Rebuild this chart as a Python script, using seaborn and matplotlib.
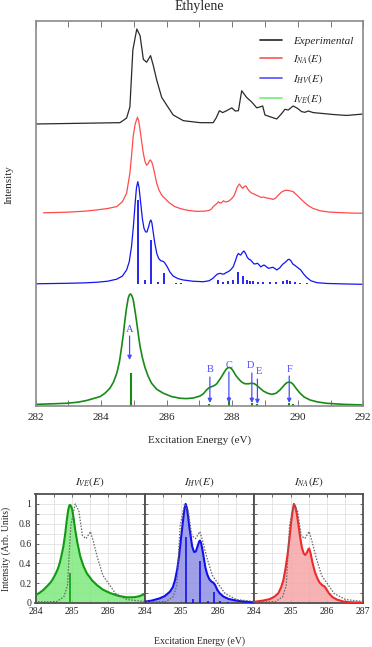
import numpy as np
import matplotlib
matplotlib.use("Agg")
import matplotlib.pyplot as plt
import seaborn as sns
from matplotlib.lines import Line2D

# ---------------- data ----------------
exp_E = [282.00, 284.58, 284.78, 284.88, 284.97, 285.09, 285.19, 285.29, 285.39, 285.51,
         285.59, 285.70, 285.85, 286.00, 286.20, 286.51, 287.02, 287.42, 287.51, 287.61,
         287.71, 287.83, 287.99, 288.09, 288.19, 288.29, 288.44, 288.60, 288.75, 288.85,
         288.93, 289.00, 289.15, 289.36, 289.51, 289.61, 289.71, 289.86, 289.99, 290.12,
         290.22, 290.32, 290.47, 290.78, 291.08, 291.49, 292.00]
exp_I = [0.00, 0.014, 0.063, 0.18, 0.78, 1.00, 0.93, 0.68, 0.65, 0.72,
         0.62, 0.46, 0.28, 0.20, 0.095, 0.035, 0.014, 0.014, 0.063, 0.14,
         0.12, 0.14, 0.17, 0.137, 0.14, 0.35, 0.28, 0.23, 0.17, 0.18,
         0.19, 0.095, 0.077, 0.053, 0.11, 0.155, 0.147, 0.19, 0.165, 0.13,
         0.123, 0.137, 0.12, 0.11, 0.10, 0.09, 0.105]

na_E = [282.24, 283.00, 283.50, 283.87, 284.20, 284.48, 284.65, 284.78, 284.88, 284.93,
        284.98, 285.04, 285.11, 285.15, 285.19, 285.24, 285.29, 285.34, 285.39, 285.44,
        285.48, 285.51, 285.55, 285.59, 285.65, 285.70, 285.77, 285.85, 285.90, 285.95,
        286.02, 286.10, 286.25, 286.41, 286.65, 286.92, 287.15, 287.30, 287.37, 287.42,
        287.48, 287.53, 287.58, 287.62, 287.65, 287.69, 287.73, 287.78, 287.83, 287.91,
        287.99, 288.05, 288.09, 288.15, 288.22, 288.27, 288.32, 288.37, 288.42, 288.48,
        288.54, 288.60, 288.67, 288.73, 288.80, 288.85, 288.90, 288.95, 289.00, 289.06,
        289.13, 289.19, 289.25, 289.33, 289.41, 289.50, 289.58, 289.66, 289.76, 289.86,
        289.99, 290.12, 290.30, 290.47, 290.70, 290.98, 291.50, 292.00]
na_I = [0.005, 0.012, 0.022, 0.035, 0.05, 0.07, 0.12, 0.21, 0.42, 0.60,
        0.80, 0.93, 1.00, 0.96, 0.87, 0.74, 0.625, 0.54, 0.50, 0.52,
        0.55, 0.555, 0.53, 0.485, 0.39, 0.31, 0.24, 0.19, 0.17, 0.155,
        0.13, 0.105, 0.07, 0.05, 0.03, 0.02, 0.022, 0.03, 0.045, 0.07,
        0.087, 0.10, 0.12, 0.11, 0.105, 0.115, 0.13, 0.12, 0.12, 0.13,
        0.155, 0.18, 0.21, 0.27, 0.305, 0.28, 0.26, 0.28, 0.285, 0.25,
        0.225, 0.21, 0.20, 0.19, 0.18, 0.17, 0.165, 0.17, 0.165, 0.158,
        0.155, 0.15, 0.145, 0.16, 0.19, 0.22, 0.235, 0.24, 0.235, 0.225,
        0.185, 0.14, 0.085, 0.05, 0.025, 0.012, 0.004, 0.0]

hv_E = [282.00, 283.00, 283.50, 283.87, 284.20, 284.48, 284.65, 284.78, 284.86, 284.93,
        284.99, 285.04, 285.08, 285.12, 285.16, 285.21, 285.26, 285.31, 285.36, 285.40,
        285.45, 285.49, 285.52, 285.55, 285.59, 285.64, 285.70, 285.76, 285.82, 285.88,
        285.93, 285.98, 286.02, 286.10, 286.20, 286.35, 286.51, 286.80, 287.12, 287.30,
        287.42, 287.48, 287.55, 287.63, 287.70, 287.75, 287.82, 287.88, 287.95, 288.03,
        288.10, 288.15, 288.19, 288.23, 288.26, 288.31, 288.36, 288.41, 288.46, 288.51,
        288.56, 288.62, 288.67, 288.72, 288.77, 288.82, 288.87, 288.92, 288.97, 289.03,
        289.10, 289.17, 289.24, 289.30, 289.36, 289.45, 289.54, 289.64, 289.70, 289.74,
        289.79, 289.85, 289.91, 289.97, 290.03, 290.09, 290.18, 290.27, 290.40, 290.58,
        290.90, 291.50, 292.00]
hv_I = [0.005, 0.010, 0.014, 0.020, 0.030, 0.050, 0.08, 0.14, 0.22, 0.37,
        0.58, 0.79, 0.94, 1.00, 0.94, 0.79, 0.64, 0.545, 0.51, 0.51,
        0.56, 0.61, 0.627, 0.60, 0.51, 0.40, 0.30, 0.25, 0.23, 0.225,
        0.215, 0.19, 0.17, 0.12, 0.08, 0.055, 0.042, 0.03, 0.025, 0.035,
        0.06, 0.08, 0.10, 0.107, 0.10, 0.10, 0.115, 0.123, 0.14, 0.17,
        0.23, 0.28, 0.30, 0.29, 0.285, 0.31, 0.325, 0.30, 0.263, 0.245,
        0.237, 0.215, 0.198, 0.20, 0.205, 0.19, 0.17, 0.18, 0.188, 0.175,
        0.156, 0.16, 0.166, 0.155, 0.14, 0.16, 0.195, 0.22, 0.24, 0.244,
        0.23, 0.198, 0.185, 0.17, 0.155, 0.14, 0.10, 0.068, 0.035, 0.016,
        0.008, 0.003, 0.0]
hv_stick_E = [285.12, 285.35, 285.51, 285.74, 285.91, 286.30, 286.45, 287.58, 287.73, 287.88,
              288.03, 288.19, 288.34, 288.44, 288.54, 288.64, 288.79, 288.94, 289.15, 289.35,
              289.56, 289.66, 289.76, 289.91, 290.06, 290.27]
hv_stick_I = [0.82, 0.04, 0.43, 0.025, 0.107, 0.015, 0.01, 0.04, 0.02, 0.03,
              0.04, 0.123, 0.08, 0.04, 0.03, 0.03, 0.025, 0.02, 0.02, 0.025,
              0.03, 0.04, 0.03, 0.02, 0.015, 0.01]

ve_E = [282.00, 282.50, 282.95, 283.30, 283.56, 283.80, 283.97, 284.12, 284.27, 284.38,
        284.48, 284.56, 284.63, 284.68, 284.73, 284.78, 284.83, 284.87, 284.90, 284.94,
        284.98, 285.03, 285.09, 285.14, 285.19, 285.26, 285.34, 285.44, 285.54, 285.70,
        285.90, 286.15, 286.41, 286.60, 286.81, 287.02, 287.12, 287.22, 287.30, 287.38,
        287.46, 287.53, 287.60, 287.68, 287.76, 287.83, 287.88, 287.93, 287.98, 288.03,
        288.11, 288.19, 288.29, 288.39, 288.50, 288.60, 288.68, 288.75, 288.85, 288.95,
        289.08, 289.21, 289.34, 289.46, 289.55, 289.61, 289.67, 289.74, 289.80, 289.86,
        289.96, 290.07, 290.20, 290.37, 290.60, 290.88, 291.40, 292.00]
ve_I = [0.010, 0.015, 0.020, 0.030, 0.045, 0.065, 0.080, 0.110, 0.155, 0.21,
        0.29, 0.39, 0.53, 0.64, 0.77, 0.88, 0.965, 0.995, 1.00, 0.985,
        0.95, 0.86, 0.74, 0.63, 0.53, 0.43, 0.34, 0.26, 0.20, 0.145,
        0.11, 0.08, 0.065, 0.062, 0.067, 0.085, 0.105, 0.14, 0.16, 0.17,
        0.18, 0.195, 0.225, 0.26, 0.30, 0.33, 0.34, 0.34, 0.33, 0.31,
        0.27, 0.24, 0.21, 0.195, 0.195, 0.20, 0.195, 0.18, 0.155, 0.13,
        0.11, 0.10, 0.11, 0.14, 0.17, 0.19, 0.205, 0.21, 0.205, 0.19,
        0.15, 0.11, 0.075, 0.05, 0.032, 0.02, 0.01, 0.005]
ve_stick_E = [284.90, 287.30, 287.90, 288.60, 288.77, 289.72, 289.87]
ve_stick_I = [0.29, 0.015, 0.08, 0.02, 0.01, 0.025, 0.01]

peak_labels = ["A", "B", "C", "D", "E", "F"]
peak_E = [284.87, 287.32, 287.90, 288.60, 288.77, 289.74]

# zoomed panels
ve_zoom_E = [284.00, 284.10, 284.21, 284.32, 284.42, 284.49, 284.56, 284.62, 284.67, 284.72,
             284.77, 284.82, 284.86, 284.90, 284.93, 284.95, 284.98, 285.01, 285.05, 285.09,
             285.15, 285.23, 285.32, 285.41, 285.55, 285.69, 285.85, 286.05, 286.28, 286.51,
             286.70, 286.85, 287.00]
ve_zoom_I = [0.08, 0.10, 0.13, 0.17, 0.21, 0.25, 0.30, 0.35, 0.41, 0.49,
             0.58, 0.71, 0.84, 0.94, 0.985, 0.99, 0.975, 0.94, 0.85, 0.74,
             0.61, 0.47, 0.37, 0.30, 0.23, 0.18, 0.135, 0.10, 0.072, 0.057,
             0.058, 0.068, 0.09]
ve_zoom_stick_E = [284.94]
ve_zoom_stick_I = [0.30]

hv_zoom_E = [284.00, 284.20, 284.41, 284.55, 284.69, 284.77, 284.83, 284.89, 284.94, 284.99,
             285.04, 285.08, 285.12, 285.155, 285.19, 285.22, 285.26, 285.30, 285.35, 285.40,
             285.45, 285.49, 285.51, 285.54, 285.58, 285.62, 285.66, 285.71, 285.77, 285.83,
             285.88, 285.93, 285.99, 286.06, 286.16, 286.30, 286.53, 286.75, 286.98]
hv_zoom_I = [0.013, 0.025, 0.047, 0.07, 0.114, 0.16, 0.23, 0.34, 0.47, 0.64,
             0.80, 0.93, 1.00, 0.96, 0.87, 0.77, 0.67, 0.57, 0.515, 0.52,
             0.575, 0.62, 0.63, 0.61, 0.54, 0.45, 0.36, 0.29, 0.24, 0.215,
             0.205, 0.18, 0.13, 0.095, 0.064, 0.04, 0.023, 0.013, 0.007]
hv_zoom_stick_E = [285.13, 285.33, 285.52, 285.72, 285.90, 286.06, 286.29]
hv_zoom_stick_I = [0.67, 0.04, 0.42, 0.02, 0.11, 0.02, 0.015]

na_zoom_E = [284.02, 284.25, 284.43, 284.56, 284.66, 284.74, 284.80, 284.86, 284.92, 284.97,
             285.01, 285.05, 285.09, 285.13, 285.17, 285.21, 285.26, 285.31, 285.36, 285.40,
             285.45, 285.49, 285.51, 285.55, 285.60, 285.67, 285.74, 285.80, 285.87, 285.94,
             286.00, 286.05, 286.15, 286.27, 286.45, 286.63, 287.00]
na_zoom_I = [0.013, 0.025, 0.04, 0.065, 0.098, 0.16, 0.23, 0.35, 0.50, 0.66,
             0.80, 0.92, 1.00, 0.97, 0.90, 0.80, 0.67, 0.56, 0.50, 0.485,
             0.51, 0.545, 0.55, 0.50, 0.41, 0.31, 0.245, 0.205, 0.18, 0.165,
             0.13, 0.10, 0.06, 0.035, 0.015, 0.008, 0.003]

legend_labels = ["Experimental", r"$I_{NA}(E)$", r"$I_{HV}(E)$", r"$I_{VE}(E)$"]
panel_titles = [r"$I_{VE}(E)$", r"$I_{HV}(E)$", r"$I_{NA}(E)$"]

# ---------------- style ----------------
sns.set_style("ticks")
plt.rcParams['font.family'] = ['Liberation Serif', 'DejaVu Serif']
plt.rcParams['mathtext.fontset'] = 'stix'

W, H = 372, 647
fig = plt.figure(figsize=(W / 100, H / 100), dpi=100)

def fx(px):
    return px / W

def fy(py):
    return 1 - py / H

# ---------------- top panel ----------------
L, R, T, B = 35.5, 363.3, 20.7, 406.0
ax = fig.add_axes([fx(L), fy(B), fx(R - L), (B - T) / H])
ax.set_xlim(282, 292)
ax.set_ylim(0, (B - T) / 100)

c_exp, c_na, c_hv, c_ve = "#2a2a2a", "#ff4b4b", "#1414f0", "#178a17"
# offsets / scales (layout)
off_exp, s_exp = 2.82, 0.95
off_na, s_na = 1.927, 0.96
off_hv, s_hv = 1.217, 1.026
off_ve, s_ve = 0.005, 1.115

sns.lineplot(x=exp_E, y=off_exp + s_exp * np.array(exp_I), ax=ax, color=c_exp, lw=0.9,
             sort=False, estimator=None)
sns.lineplot(x=na_E, y=off_na + s_na * np.array(na_I), ax=ax, color=c_na, lw=0.9,
             sort=False, estimator=None)
sns.lineplot(x=hv_E, y=off_hv + s_hv * np.array(hv_I), ax=ax, color=c_hv, lw=0.9,
             sort=False, estimator=None)
ax.vlines(hv_stick_E, off_hv, off_hv + s_hv * np.array(hv_stick_I), color=c_hv, lw=1.3)
sns.lineplot(x=ve_E, y=off_ve + s_ve * np.array(ve_I), ax=ax, color=c_ve, lw=1.2,
             sort=False, estimator=None)
ax.vlines(ve_stick_E, off_ve, off_ve + s_ve * np.array(ve_stick_I), color=c_ve, lw=1.5)

# arrows
c_arrow = "#4a4aff"
lab_dx = [0, 0, 0, -0.04, 0.05, 0]
lab_y = [0.77, 0.36, 0.41, 0.40, 0.34, 0.37]
arr_top = [0.70, 0.29, 0.34, 0.33, 0.27, 0.30]
arr_bot = [0.46, 0.03, 0.03, 0.03, 0.02, 0.03]
for lab, e, dx, ly, a0, a1 in zip(peak_labels, peak_E, lab_dx, lab_y, arr_top, arr_bot):
    ax.text(e + dx, ly, lab, color=c_arrow, ha="center", va="center", fontsize=7.5)
    ax.annotate("", xy=(e, a1), xytext=(e, a0),
                arrowprops=dict(arrowstyle="-|>", color=c_arrow, lw=0.9,
                                mutation_scale=6, shrinkA=0, shrinkB=0))

ax.set_xticks([282, 284, 286, 288, 290, 292])
ax.set_xticks([283, 285, 287, 289, 291], minor=True)
ax.set_yticks([])
ax.tick_params(axis="x", which="both", direction="in", top=True, bottom=True,
               length=4.5, width=0.7, color="#777777", labelsize=8, pad=5)
for sp in ax.spines.values():
    sp.set_color("#8a8a8a")
    sp.set_linewidth(1.2)
ax.set_xlabel("")
ax.set_ylabel("")

handles = [Line2D([0], [0], color=c, lw=1.2) for c in
           ["#222222", "#ff5050", "#5050ff", "#70f070"]]
leg = ax.legend(handles, legend_labels, loc="upper right", bbox_to_anchor=(1.0, 0.985),
                frameon=False, handlelength=2.0, labelspacing=0.55,
                handletextpad=1.0, prop={"style": "italic", "size": 8})

fig.text(fx((L + R) / 2), fy(6.5), "Ethylene", ha="center", va="center", fontsize=10)
fig.text(fx((L + R) / 2), fy(440), "Excitation Energy (eV)", ha="center", va="center",
         fontsize=8)
fig.text(fx(9), fy(185), "Intensity", ha="center", va="center", rotation=90, fontsize=8)

# ---------------- bottom panels ----------------
bT, bB = 494.0, 603.0
edges = [35.5, 144.7, 254.3, 363.3]
panels = [
    (ve_zoom_E, ve_zoom_I, ve_zoom_stick_E, ve_zoom_stick_I, "#119a11", "#7fe97f"),
    (hv_zoom_E, hv_zoom_I, hv_zoom_stick_E, hv_zoom_stick_I, "#1010ee", "#8f8fe6"),
    (na_zoom_E, na_zoom_I, [], [], "#ee2a2a", "#f6a6a6"),
]
for i, (E, I, sE, sI, lc, fc) in enumerate(panels):
    bx = fig.add_axes([fx(edges[i]), fy(bB), fx(edges[i + 1] - edges[i]), (bB - bT) / H])
    bx.set_xlim(284, 287)
    bx.set_ylim(0, 1.1)
    bx.set_xticks(np.arange(284.5, 287.0, 0.5), minor=True)
    bx.set_yticks(np.arange(0.1, 1.1, 0.2), minor=True)
    bx.set_yticks([0, 0.2, 0.4, 0.6, 0.8, 1.0])
    bx.grid(which="both", color="#dcdcdc", lw=0.5)
    bx.set_axisbelow(True)
    bx.fill_between(E, I, 0, color=fc, alpha=0.85, lw=0, zorder=2)
    sns.lineplot(x=E, y=I, ax=bx, color=lc, lw=1.5, sort=False, estimator=None, zorder=4)
    if len(sE):
        bx.vlines(sE, 0, sI, color=lc, lw=1.2, zorder=3)
    sns.lineplot(x=exp_E, y=exp_I, ax=bx, color="#666666", lw=0.9, ls=(0, (1.2, 1.2)),
                 sort=False, estimator=None, zorder=5)
    if i < 2:
        bx.set_xticks([284, 285, 286])
    else:
        bx.set_xticks([284, 285, 286, 287])
    bx.tick_params(axis="both", which="both", direction="in", top=True, right=True,
                   length=2.5, width=0.6, color="#555555", labelsize=7, pad=3)
    if i == 0:
        bx.set_yticklabels(["0", "0.2", "0.4", "0.6", "0.8", "1"])
    else:
        bx.set_yticklabels([])
    for sp in bx.spines.values():
        sp.set_color("#505050")
        sp.set_linewidth(1.3)
    bx.set_xlabel("")
    bx.set_ylabel("")
    bx.text(0.5, 1 + 12 / 109, panel_titles[i], transform=bx.transAxes, ha="center",
            va="center", fontsize=8)

fig.text(fx(199), fy(641), "Excitation Energy (eV)", ha="center", va="center", fontsize=7)
fig.text(fx(6), fy(549), "Intensity (Arb. Units)", ha="center", va="center", rotation=90,
         fontsize=7)

fig.savefig("out.png", dpi=100)
